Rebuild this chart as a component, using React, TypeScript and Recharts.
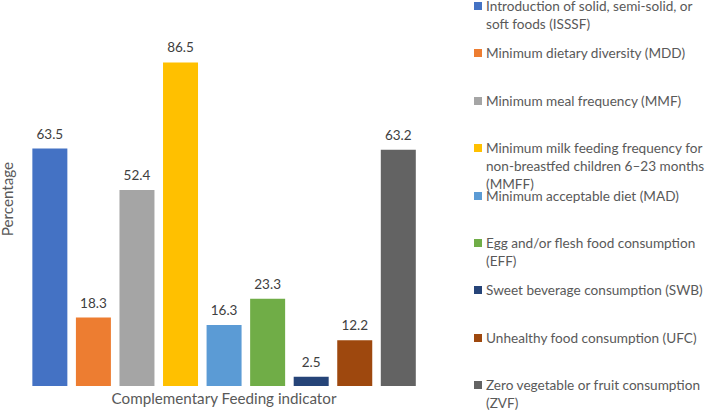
import React from 'react';
import { BarChart, Bar, XAxis, YAxis, Cell, LabelList, Legend } from 'recharts';

const codes = ['ISSSF', 'MDD', 'MMF', 'MMFF', 'MAD', 'EFF', 'SWB', 'UFC', 'ZVF'];
const names = [
  'Introduction of solid, semi-solid, or soft foods (ISSSF)',
  'Minimum dietary diversity (MDD)',
  'Minimum meal frequency (MMF)',
  'Minimum milk feeding frequency for non-breastfed children 6–23 months (MMFF)',
  'Minimum acceptable diet (MAD)',
  'Egg and/or flesh food consumption (EFF)',
  'Sweet beverage consumption (SWB)',
  'Unhealthy food consumption (UFC)',
  'Zero vegetable or fruit consumption (ZVF)',
];
const values = [63.5, 18.3, 52.4, 86.5, 16.3, 23.3, 2.5, 12.2, 63.2];
const colors = ['#4472C4', '#ED7D31', '#A5A5A5', '#FFC000', '#5B9BD5', '#70AD47', '#264478', '#9E480E', '#636363'];
const xTitle = 'Complementary Feeding indicator';
const yTitle = 'Percentage';

const data = codes.map((c, i) => ({ code: c, name: names[i], value: values[i] }));

const FONT = 'Lato, "Noto Sans", sans-serif';

const LegendContent = () => (
  <div style={{ fontFamily: FONT, fontSize: 13.6, color: '#595959' }}>
    {names.map((n, i) => (
      <div key={n} style={{ height: 47.4, display: 'flex', alignItems: 'flex-start' }}>
        <div style={{ width: 8, height: 8, background: colors[i], marginTop: 5, marginRight: 4, flex: '0 0 auto' }} />
        <div style={{ lineHeight: '18px', width: 224, flex: '0 0 auto' }}>{n}</div>
      </div>
    ))}
  </div>
);

export default function App() {
  return (
    <div style={{ position: 'absolute', left: 0, top: 0, width: 708, height: 412, background: '#fff', overflow: 'hidden' }}>
      <BarChart
        width={708}
        height={412}
        data={data}
        margin={{ top: 12, right: 54, bottom: 0, left: 0 }}
        barCategoryGap="10%"
      >
        <XAxis
          dataKey="code"
          tick={false}
          axisLine={false}
          tickLine={false}
          height={26}
          label={{ value: xTitle, position: 'center', fill: '#595959', fontSize: 15.2, fontFamily: FONT }}
        />
        <YAxis
          domain={[0, 100]}
          tick={false}
          axisLine={false}
          tickLine={false}
          width={28}
          label={{
            value: yTitle,
            angle: -90,
            position: 'insideLeft',
            offset: 8,
            fill: '#595959',
            fontSize: 15.2,
            fontFamily: FONT,
            style: { textAnchor: 'middle' },
          }}
        />
        <Legend
          layout="vertical"
          align="right"
          verticalAlign="top"
          width={234}
          wrapperStyle={{ left: 474, right: 'auto', top: -3 }}
          content={LegendContent}
        />
        <Bar dataKey="value" isAnimationActive={false}>
          {data.map((d, i) => (
            <Cell key={d.code} fill={colors[i]} />
          ))}
          <LabelList dataKey="value" position="top" offset={10} fill="#404040" fontSize={13.5} fontFamily={FONT} />
        </Bar>
      </BarChart>
    </div>
  );
}
